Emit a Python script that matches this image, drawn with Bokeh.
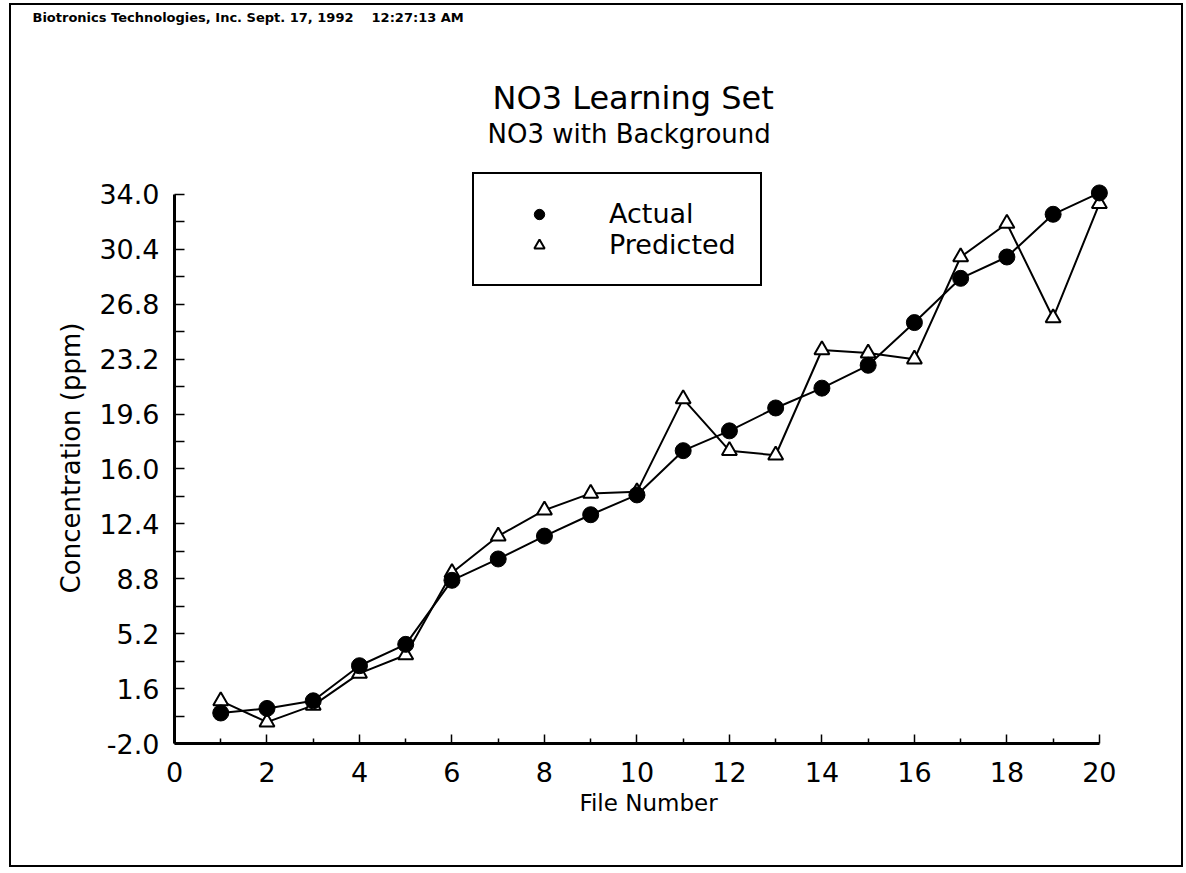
from bokeh.plotting import figure
from bokeh.models import (FixedTicker, PrintfTickFormatter, Legend, LegendItem,
                          Range1d, Title)
from bokeh.embed import file_html
from bokeh.resources import INLINE

# ---- data ----
file_number = list(range(1, 21))
actual = [0.0, 0.3, 0.8, 3.1, 4.5, 8.7, 10.1, 11.6, 13.0, 14.3,
          17.2, 18.5, 20.0, 21.3, 22.8, 25.6, 28.5, 29.9, 32.7, 34.1]
predicted = [0.8, -0.6, 0.5, 2.6, 3.8, 9.2, 11.6, 13.3, 14.4, 14.5,
             20.6, 17.2, 16.9, 23.8, 23.6, 23.2, 29.9, 32.1, 25.9, 33.4]
x_major_ticks = [0, 2, 4, 6, 8, 10, 12, 14, 16, 18, 20]
x_minor_ticks = [1, 3, 5, 7, 9, 11, 13, 15, 17, 19]
y_major_ticks = [-2.0, 1.6, 5.2, 8.8, 12.4, 16.0, 19.6, 23.2, 26.8, 30.4, 34.0]
y_minor_ticks = [-0.2, 3.4, 7.0, 10.6, 14.2, 17.8, 21.4, 25.0, 28.6, 32.2]
header_text = "Biotronics Technologies, Inc. Sept. 17, 1992\u00a0\u00a0\u00a0\u00a012:27:13 AM"
title_text = "NO3 Learning Set"
subtitle_text = "NO3 with Background"
x_label = "File Number"
y_label = "Concentration (ppm)"
series_names = ["Actual", "Predicted"]

FONT = "DejaVu Sans"

p = figure(width=1174, height=864, output_backend="svg", toolbar_location=None,
           x_range=Range1d(0, 20.5), y_range=Range1d(-2, 35.44),
           min_border_left=163, min_border_right=63, min_border_top=167,
           min_border_bottom=126)
p.margin = (3, 0, 0, 9)
p.styles = {"border": "2px solid black", "box-sizing": "border-box"}
p.outline_line_color = None
p.xgrid.visible = False
p.ygrid.visible = False
p.background_fill_color = "white"
p.border_fill_color = "white"

# axes
xa = p.xaxis[0]
xa.ticker = FixedTicker(ticks=x_major_ticks, minor_ticks=x_minor_ticks)
xa.bounds = (0, 20)
xa.axis_line_width = 3
xa.major_tick_in = 9
xa.major_tick_out = 0
xa.minor_tick_in = 5
xa.minor_tick_out = 0
xa.major_tick_line_width = 1.5
xa.minor_tick_line_width = 1.5
xa.major_label_text_font = FONT
xa.major_label_text_font_size = "27px"
xa.major_label_text_color = "black"
xa.major_label_standoff = 18
xa.axis_label = x_label
xa.axis_label_text_font = FONT
xa.axis_label_text_font_size = "23px"
xa.axis_label_text_font_style = "normal"
xa.axis_label_text_color = "black"
xa.axis_label_standoff = 5

ya = p.yaxis[0]
ya.ticker = FixedTicker(ticks=y_major_ticks, minor_ticks=y_minor_ticks)
ya.bounds = (-2, 34)
ya.formatter = PrintfTickFormatter(format="%.1f")
ya.axis_line_width = 3
ya.major_tick_in = 10
ya.major_tick_out = 0
ya.minor_tick_in = 10
ya.minor_tick_out = 0
ya.major_tick_line_width = 1.5
ya.minor_tick_line_width = 1.5
ya.major_label_text_font = FONT
ya.major_label_text_font_size = "27px"
ya.major_label_text_color = "black"
ya.major_label_standoff = 15
ya.axis_label = y_label
ya.axis_label_text_font = FONT
ya.axis_label_text_font_size = "26px"
ya.axis_label_text_font_style = "normal"
ya.axis_label_text_color = "black"
ya.axis_label_standoff = 10

# series
p.line(file_number, actual, line_color="black", line_width=2)
p.line(file_number, predicted, line_color="black", line_width=2)
r_pred = p.scatter(file_number, predicted, marker="triangle", size=15,
                   fill_color="white", line_color="black", line_width=2)
r_act = p.scatter(file_number, actual, marker="circle", size=16,
                  fill_color="black", line_color="black")

legend = Legend(items=[LegendItem(label=series_names[0], renderers=[r_act]),
                       LegendItem(label=series_names[1], renderers=[r_pred])],
                location=(298, 457))
legend.label_text_font = FONT
legend.label_text_font_size = "27px"
legend.label_text_color = "black"
legend.border_line_color = "black"
legend.border_line_alpha = 1
legend.border_line_width = 2
legend.background_fill_alpha = 1
legend.padding = 24
legend.spacing = 0
legend.glyph_width = 82
legend.glyph_height = 26
legend.label_height = 26
legend.label_standoff = 29
legend.margin = 0
p.add_layout(legend, "center")

# title stack above the frame (first added sits nearest the frame)
def spacer(standoff):
    return Title(text="\u00a0", text_font_size="2px", standoff=standoff)

p.add_layout(spacer(19.7), "above")
p.add_layout(Title(text=subtitle_text, align="left", offset=313, standoff=0,
                   text_font=FONT, text_font_size="26px",
                   text_font_style="normal", text_color="black"), "above")
p.add_layout(Title(text=title_text, align="left", offset=318, standoff=0,
                   text_font=FONT, text_font_size="32px",
                   text_font_style="normal", text_color="black"), "above")
p.add_layout(spacer(45.7), "above")
p.add_layout(Title(text=header_text, align="left", offset=-142, standoff=4,
                   text_font=FONT, text_font_size="13px", text_font_style="bold",
                   text_color="black"), "above")

open("out.html", "w").write(file_html(p, INLINE))
